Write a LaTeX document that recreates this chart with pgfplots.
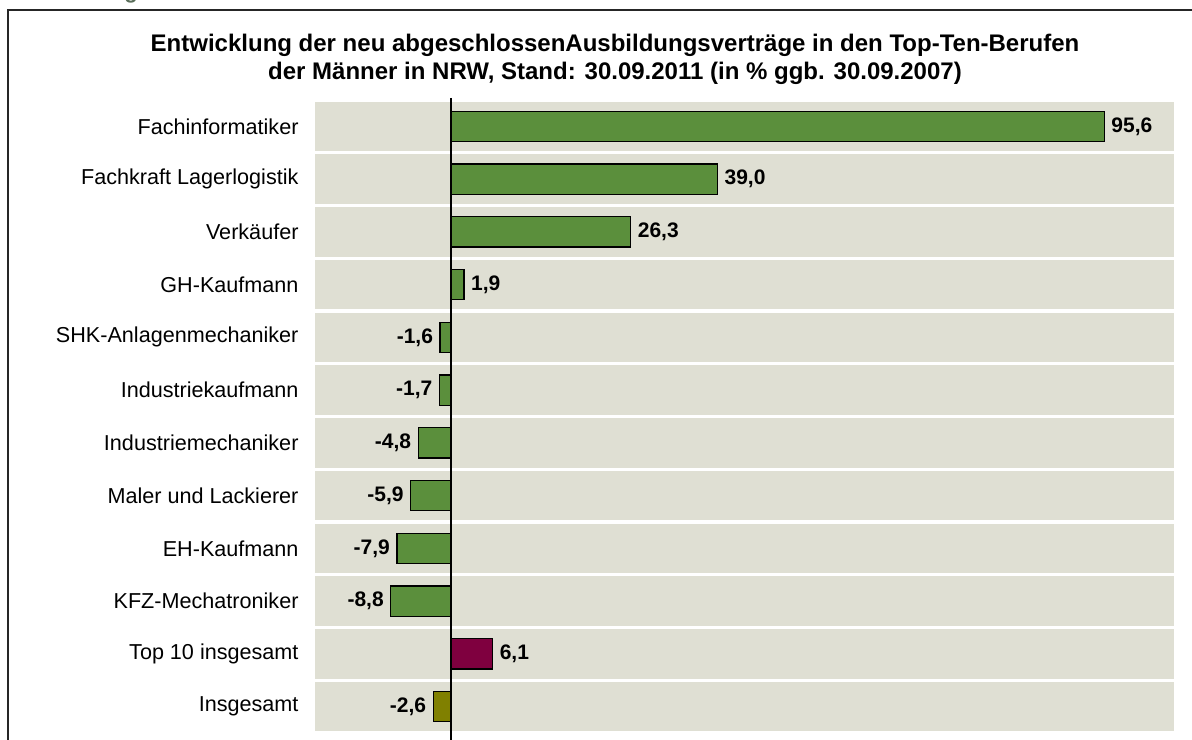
\documentclass[border=0pt]{standalone}
\usepackage{pgfplots}
\pgfplotsset{compat=1.18}
\usepackage{fontspec}
\setmainfont{Liberation Sans}
\definecolor{bargreen}{RGB}{91,143,60}
\definecolor{barmaroon}{RGB}{127,0,63}
\definecolor{barolive}{RGB}{128,128,0}
\definecolor{band}{RGB}{223,223,211}
\definecolor{headc}{RGB}{90,110,90}
\begin{document}
\begin{tikzpicture}[x=1bp,y=1bp]
\useasboundingbox (0,0) rectangle (1192,740);
\begin{scope}
\clip (0,0) rectangle (1192,740);
\node[anchor=base east, text=headc, font=\bfseries\fontsize{22bp}{26bp}\selectfont, inner sep=0] at (138,741.5) {Abbildung};
\end{scope}
\draw[line width=1.5bp, black!85] (8,0) -- (8,730) -- (1192,730);
\node[font=\bfseries\fontsize{24bp}{28bp}\selectfont, align=center] at (615,681) {Entwicklung der neu abgeschlossenAusbildungsverträge in den Top-Ten-Berufen\\der Männer in NRW, Stand: 30.09.2011 (in \% ggb. 30.09.2007)};
\begin{axis}[at={(315bp,7bp)}, anchor=south west, width=859bp, height=633bp, scale only axis,
  xmin=-19.9, xmax=105.8, ymin=-0.5, ymax=11.5, y dir=reverse,
  axis line style={draw=none}, xtick=\empty, ytick={0,...,11},
  yticklabels={Fachinformatiker, Fachkraft Lagerlogistik, Verkäufer, GH-Kaufmann, SHK-Anlagenmechaniker, Industriekaufmann, Industriemechaniker, Maler und Lackierer, EH-Kaufmann, KFZ-Mechatroniker, Top 10 insgesamt, Insgesamt},
  major tick length=0pt,
  yticklabel style={font=\fontsize{21.6bp}{24bp}\selectfont, xshift=-13bp},
  xbar, bar width=0.57, bar shift=0pt,
  nodes near coords, point meta=explicit symbolic,
  clip=false]
\pgfplotsinvokeforeach{0,...,11}{\fill[band] (axis cs:-19.9,#1-0.47) rectangle (axis cs:105.8,#1+0.47);}
\draw[line width=1.3bp] (axis cs:0,-0.54) -- (axis cs:0,11.64);
\addplot[fill=bargreen, draw=black, line width=1.2bp,
  every node near coord/.style={anchor=west, font=\bfseries\fontsize{21bp}{24bp}\selectfont, text=black, inner sep=6.5bp}] coordinates {
(95.6,0) [95,6]
(39.0,1) [39,0]
(26.3,2) [26,3]
(1.9,3) [1,9]
};
\addplot[fill=bargreen, draw=black, line width=1.2bp,
  every node near coord/.style={anchor=east, font=\bfseries\fontsize{21bp}{24bp}\selectfont, text=black, inner sep=6.5bp}] coordinates {
(-1.6,4) [-1,6]
(-1.7,5) [-1,7]
(-4.8,6) [-4,8]
(-5.9,7) [-5,9]
(-7.9,8) [-7,9]
(-8.8,9) [-8,8]
};
\addplot[fill=barmaroon, draw=black, line width=1.2bp,
  every node near coord/.style={anchor=west, font=\bfseries\fontsize{21bp}{24bp}\selectfont, text=black, inner sep=6.5bp}] coordinates {(6.1,10) [6,1]};
\addplot[fill=barolive, draw=black, line width=1.2bp,
  every node near coord/.style={anchor=east, font=\bfseries\fontsize{21bp}{24bp}\selectfont, text=black, inner sep=6.5bp}] coordinates {(-2.6,11) [-2,6]};
\end{axis}
\end{tikzpicture}
\end{document}
